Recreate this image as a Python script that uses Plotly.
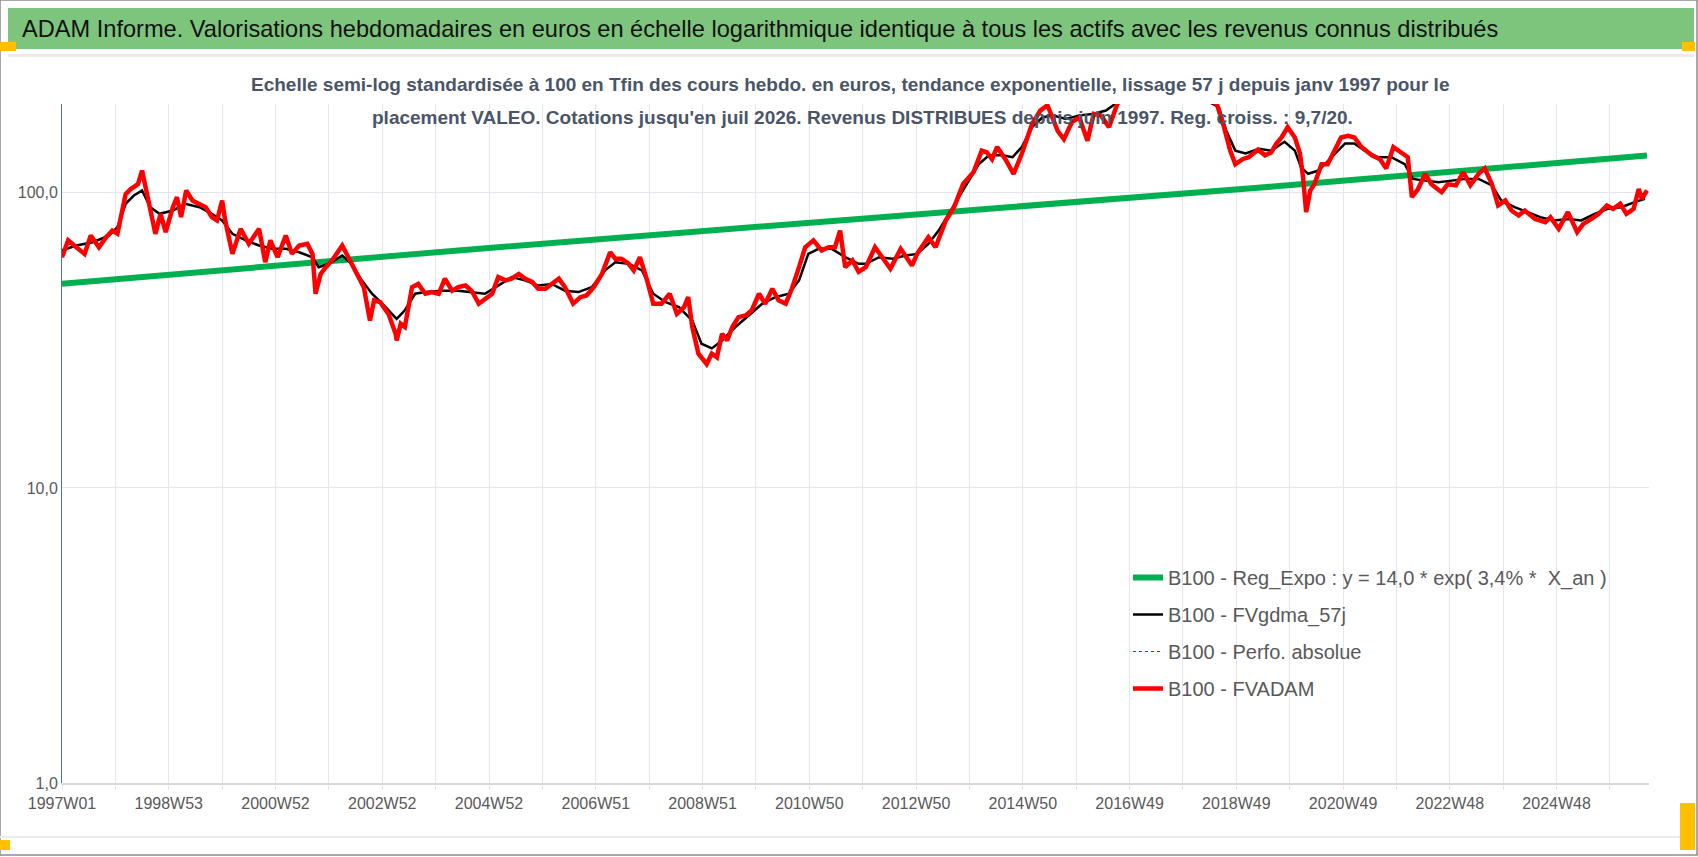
import numpy as np
from plotly import graph_objects as go

# page geometry (pixels) of the plot area
W, H = 1698, 857
PLOT_L, PLOT_R, PLOT_T, PLOT_B = 62, 1649, 104, 783

FONT = "Liberation Sans, Arial, sans-serif"

TITLE = ("ADAM Informe. Valorisations hebdomadaires en euros en échelle logarithmique "
         "identique à tous les actifs avec les revenus connus distribués")
SUBTITLE_1 = ("Echelle semi-log standardisée à 100 en Tfin des cours hebdo. en euros, "
              "tendance exponentielle, lissage 57 j depuis janv 1997 pour le")
SUBTITLE_2 = ("placement VALEO. Cotations jusqu'en juil 2026. Revenus DISTRIBUES depuis "
              "juin 1997. Reg. croiss. : 9,7/20.")

# x axis: weeks counted from 1997W01
tick_weeks = [0, 104, 208, 312, 416, 520, 624, 728, 832, 936, 1040, 1144, 1248, 1352, 1456]
tick_labels = ["1997W01", "1998W53", "2000W52", "2002W52", "2004W52", "2006W51", "2008W51",
               "2010W50", "2012W50", "2014W50", "2016W49", "2018W49", "2020W49", "2022W48",
               "2024W48"]
last_week = 1546

# B100 - FVADAM (weekly valuation)
adam_weeks = [0, 6, 14, 22, 28, 36, 43, 49, 54, 62, 67, 74, 78, 83, 88, 91, 96, 101, 108, 112,
              116, 121, 127, 134, 140, 146, 151, 156, 159, 166, 174, 182, 192, 198, 203, 210,
              218, 224, 231, 239, 244, 247, 252, 257, 263, 273, 279, 287, 294, 300, 304, 310,
              318, 325, 326, 330, 334, 341, 347, 354, 360, 367, 373, 380, 386, 393, 399, 406,
              412, 419, 425, 432, 438, 445, 451, 458, 464, 471, 477, 484, 490, 498, 505, 511,
              518, 526, 534, 539, 545, 552, 557, 563, 570, 576, 584, 592, 599, 606, 610, 614,
              620, 628, 633, 638, 643, 648, 653, 659, 666, 672, 679, 685, 692, 698, 705, 711,
              718, 724, 732, 740, 747, 753, 758, 763, 770, 776, 783, 792, 799, 807, 817, 822,
              828, 833, 844, 851, 861, 869, 878, 888, 896, 901, 906, 911, 919, 927, 935, 945,
              953, 960, 965, 970, 976, 984, 991, 999, 1005, 1012, 1020, 1028, 1036, 1050, 1065,
              1080, 1095, 1110, 1125, 1132, 1138, 1143, 1150, 1156, 1163, 1165, 1172, 1178,
              1183, 1188, 1194, 1201, 1206, 1209, 1212, 1216, 1220, 1227, 1233, 1240, 1246,
              1253, 1259, 1266, 1276, 1284, 1290, 1297, 1305, 1311, 1315, 1321, 1328, 1334,
              1344, 1350, 1358, 1365, 1372, 1380, 1386, 1393, 1399, 1406, 1412, 1419, 1425,
              1435, 1445, 1450, 1458, 1467, 1476, 1482, 1490, 1497, 1505, 1511, 1518, 1524,
              1531, 1536, 1539, 1544]
adam_values = [60.5, 69, 65.4, 62.1, 71.7, 65.4, 70.7, 74.5, 72.7, 99, 103, 107, 119, 99, 80.6,
               72.6, 84.9, 73.6, 89.4, 96.7, 82.7, 101.8, 94.2, 91.8, 89.4, 82.7, 80.6, 94.2,
               80.6, 62.1, 75.5, 67.2, 75.5, 58.2, 69, 60.5, 71.7, 62.1, 66.3, 67.2, 62.1, 45.5,
               53.1, 56, 59, 66.3, 60.5, 53.1, 47.9, 36.9, 43.2, 42.6, 38.9, 33.3, 31.6, 36,
               35.1, 47.9, 49.1, 45.5, 46.1, 45.5, 51.2, 46.6, 47.9, 48.5, 46.6, 42.1, 43.7,
               45.5, 51.8, 50.5, 51.2, 53.1, 51.2, 49.9, 47.3, 47.3, 49.1, 51.2, 47.9, 42.1,
               44.3, 44.9, 47.9, 53.1, 62.9, 59.8, 59.8, 57.5, 54.6, 60.5, 50.5, 42.1, 42.1,
               45.5, 38.9, 41, 44.3, 35.1, 28.5, 26.3, 28.5, 27.7, 33.3, 31.6, 35.1, 37.9, 38.4,
               40, 45.5, 42.1, 47.3, 43.2, 42.1, 47.3, 56, 65.4, 69, 63.8, 65.4, 65.4, 74.5, 56,
               59, 54, 56, 65.4, 60.5, 55.3, 64.6, 60.5, 56.7, 62.1, 70.7, 65.4, 80.6, 89.4,
               107.3, 117.5, 139, 137, 130, 143, 130, 116, 135.6, 171, 190, 198, 180, 162, 152,
               174, 180, 150, 185, 183, 167, 200, 215, 235, 250, 240, 230, 215, 200, 167, 139,
               125, 130, 132, 139, 140, 134, 137, 147, 154, 167, 154, 136, 113, 86, 101.8, 107,
               125, 125, 139, 154, 156, 154, 143, 134, 130, 121, 143, 137, 132, 96.7, 103, 116,
               107, 100.5, 107, 106, 117.5, 106, 116, 121, 107, 90.6, 94.2, 87.1, 83.8, 87.1,
               81.6, 79.5, 82.7, 75.5, 86, 73.6, 78.5, 81.6, 84.9, 90.6, 88.3, 91.8, 84.9, 88.3,
               103, 95.4, 101.8]

# B100 - FVgdma_57j (smoothed line)
gdma_weeks = [0, 14, 30, 46, 54, 62, 70, 78, 86, 95, 108, 120, 134, 146, 156, 166, 179, 192,
              205, 218, 231, 244, 250, 260, 273, 282, 292, 302, 312, 321, 326, 334, 344, 354,
              370, 386, 399, 412, 425, 438, 451, 464, 477, 490, 503, 516, 529, 539, 552, 565,
              576, 588, 601, 614, 623, 633, 643, 656, 669, 682, 695, 708, 718, 727, 737, 750,
              763, 776, 783, 796, 809, 822, 833, 844, 854, 864, 874, 883, 893, 903, 916, 926,
              935, 945, 955, 965, 978, 991, 1004, 1017, 1030, 1050, 1070, 1090, 1110, 1127,
              1134, 1143, 1153, 1166, 1178, 1191, 1201, 1207, 1214, 1224, 1237, 1250, 1259,
              1269, 1282, 1295, 1308, 1316, 1328, 1341, 1354, 1367, 1380, 1393, 1402, 1415,
              1428, 1440, 1454, 1467, 1480, 1493, 1506, 1519, 1532, 1542]
gdma_values = [63.8, 66.3, 68, 71.7, 76.5, 91.8, 97.9, 101.8, 89.4, 84.9, 87.1, 91.8, 89.4,
               84.9, 80.6, 72.6, 69, 66.3, 64.6, 64.6, 62.9, 60.5, 56, 57.5, 61.3, 57.5, 50.5,
               45.5, 42.1, 38.9, 37.4, 40, 45.5, 46.1, 46.6, 46.6, 46.1, 45.5, 48.5, 51.8, 50.5,
               48.5, 49.1, 46.6, 46.1, 47.9, 54.6, 58.2, 57.5, 54.6, 45.5, 42.6, 41, 36.9, 30.8,
               29.7, 31.6, 35.1, 38.4, 42.1, 44.3, 45.5, 50.5, 62.1, 64.6, 64.6, 60.5, 57.5,
               57.5, 60.5, 59.8, 61.3, 62.1, 67.2, 74.5, 84.9, 96.7, 110, 125, 134, 134, 132,
               143, 167, 180, 183, 178, 183, 185, 190, 205, 220, 225, 220, 210, 195, 163, 139,
               136, 141, 139, 149, 139, 122, 116, 119, 132, 147, 147, 139, 132, 132, 125, 111.5,
               110, 108.7, 110, 111.5, 111.5, 106, 94.2, 89.4, 86, 82.7, 80.6, 81.6, 80.6, 84.9,
               88.3, 89.4, 93, 95.4]

# B100 - Reg_Expo (exponential trend, straight on the log scale)
reg_weeks = [0, 386, 776, 1165, 1544]
reg_values = [49.2, 63.8, 81.6, 104, 133.8]

LEGEND_REG = "B100 - Reg_Expo : y = 14,0 * exp( 3,4% *  X_an )"
LEGEND_GDMA = "B100 - FVgdma_57j"
LEGEND_PERFO = "B100 - Perfo. absolue"
LEGEND_ADAM = "B100 - FVADAM"


def px_x(px):
    return (px - PLOT_L) / (PLOT_R - PLOT_L)


def px_y(py):
    return (PLOT_B - py) / (PLOT_B - PLOT_T)


def page_rect(x0, y0, x1, y1, **kw):
    return dict(type="rect", xref="paper", yref="paper", x0=px_x(x0), x1=px_x(x1),
                y0=px_y(y1), y1=px_y(y0), layer="below", **kw)


fig = go.Figure()

fig.add_trace(go.Scatter(x=reg_weeks, y=reg_values, mode="lines", name=LEGEND_REG,
                         legendgroup="a", legendrank=1,
                         line=dict(color="#00B050", width=6)))
fig.add_trace(go.Scatter(x=gdma_weeks, y=gdma_values, mode="lines", name=LEGEND_GDMA,
                         legendgroup="b", legendrank=2,
                         line=dict(color="#000000", width=2.5)))
fig.add_trace(go.Scatter(x=adam_weeks, y=adam_values, mode="lines", name=LEGEND_PERFO,
                         legendgroup="c", legendrank=3,
                         line=dict(color="#FF0000", width=1.2, dash="dot")))
fig.add_trace(go.Scatter(x=adam_weeks, y=adam_values, mode="lines", name=LEGEND_ADAM,
                         legendgroup="d", legendrank=4,
                         line=dict(color="#FF0000", width=4.5)))

shapes = [
    # header band and frame pieces
    page_rect(0, 0, W - 1, H - 2, line=dict(color="#8C8C8C", width=1.5), fillcolor="white"),
    page_rect(8, 8, W - 4, 49, line=dict(width=0), fillcolor="#7DC57D"),
    page_rect(8, 54, W - 4, 57, line=dict(width=0), fillcolor="#EBEBEB"),
    page_rect(0, 836, W - 12, 838, line=dict(width=0), fillcolor="#EBEBEB"),
    page_rect(0, 42, 16, 51, line=dict(width=0), fillcolor="#FFC000"),
    page_rect(W - 16, 42, W - 3, 51, line=dict(width=0), fillcolor="#FFC000"),
    page_rect(0, 840, 10, 850, line=dict(width=0), fillcolor="#FFC000"),
    page_rect(W - 18, 803, W - 3, 850, line=dict(width=0), fillcolor="#FFC000"),
]

annotations = [
    dict(text=TITLE, xref="paper", yref="paper", x=px_x(20), y=px_y(29), xanchor="left",
         yanchor="middle", showarrow=False, font=dict(family=FONT, size=23.6, color="#111111")),
    dict(text="<b>" + SUBTITLE_1 + "</b>", xref="paper", yref="paper", x=px_x(850),
         y=px_y(84), xanchor="center", yanchor="middle", showarrow=False,
         font=dict(family=FONT, size=19, color="#4A5568")),
    dict(text="<b>" + SUBTITLE_2 + "</b>", xref="paper", yref="paper", x=px_x(862),
         y=px_y(117), xanchor="center", yanchor="middle", showarrow=False,
         font=dict(family=FONT, size=19, color="#4A5568")),
]

fig.update_layout(
    width=W,
    height=H,
    margin=dict(l=PLOT_L, r=W - PLOT_R, t=PLOT_T, b=H - PLOT_B, pad=0),
    paper_bgcolor="white",
    plot_bgcolor="rgba(0,0,0,0)",
    shapes=shapes,
    annotations=annotations,
    showlegend=True,
    legend=dict(x=px_x(1128), y=px_y(558), xanchor="left", yanchor="top",
                bgcolor="rgba(0,0,0,0)", tracegroupgap=8,
                font=dict(family=FONT, size=20, color="#595959")),
)

fig.update_xaxes(
    range=[0, last_week],
    tickmode="array",
    tickvals=tick_weeks,
    ticktext=tick_labels,
    showgrid=True,
    gridcolor="#E3E6EC",
    gridwidth=1,
    showline=True,
    linecolor="#D9D9D9",
    linewidth=1.5,
    ticks="outside",
    ticklen=5,
    tickcolor="#E3E6EC",
    tickfont=dict(family=FONT, size=16, color="#595959"),
    minor=dict(dtick=52, tick0=0, showgrid=True, gridcolor="#E3E6EC", ticks="outside",
               ticklen=5, tickcolor="#E3E6EC"),
    zeroline=False,
)

fig.update_yaxes(
    type="log",
    range=[0, np.log10(200)],
    tickmode="array",
    tickvals=[1, 10, 100],
    ticktext=["1,0", "10,0", "100,0"],
    showgrid=True,
    gridcolor="#E3E6EC",
    showline=True,
    linecolor="#4472C4",
    linewidth=1,
    ticks="",
    tickfont=dict(family=FONT, size=16, color="#595959"),
    zeroline=False,
)

fig.write_html("out.html", config={"displayModeBar": False},
               post_script="document.body.style.margin='0';")
